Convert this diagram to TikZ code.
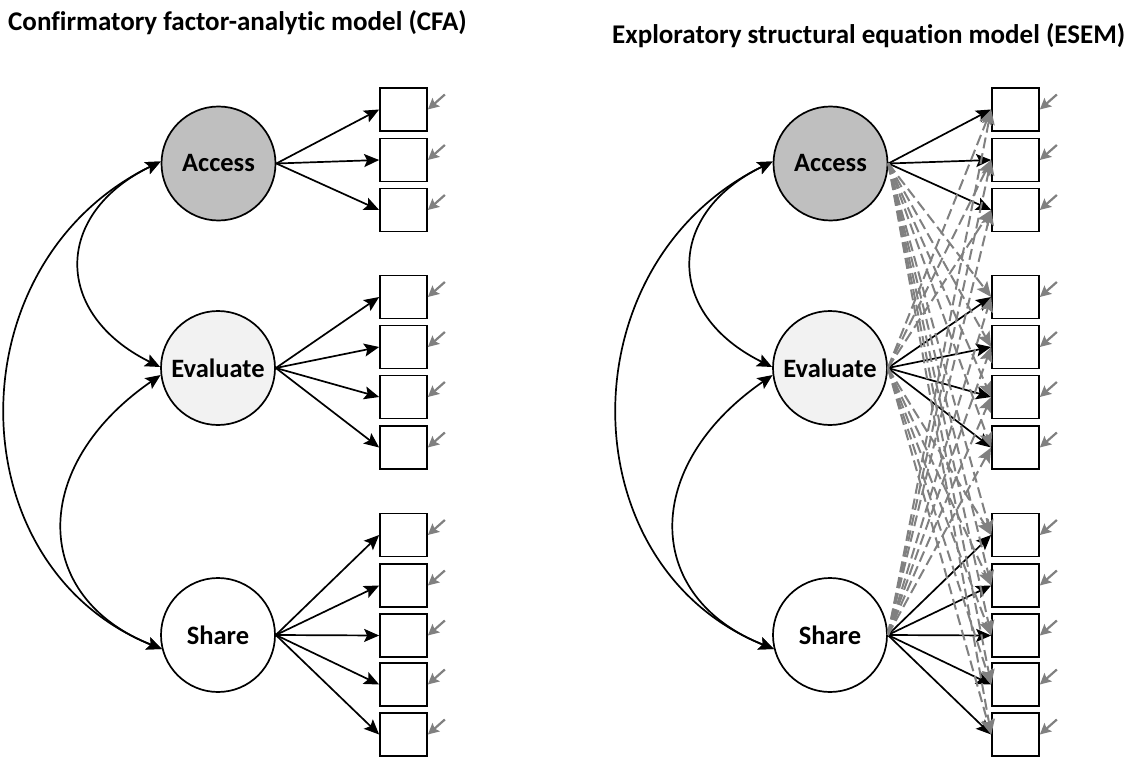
\documentclass[tikz,border=0pt]{standalone}
\usepackage{fontspec}
\setmainfont{Carlito}[Ligatures=NoCommon]
\usetikzlibrary{arrows.meta}
\definecolor{accfill}{RGB}{191,191,191}
\definecolor{evafill}{RGB}{242,242,242}
\definecolor{errgray}{RGB}{128,128,128}
\tikzset{
 factor/.style={circle, draw, line width=1.7pt, minimum size=114pt, inner sep=0pt, font=\fontsize{26.5}{30}\selectfont\bfseries},
 indic/.style={draw, line width=1.7pt, minimum width=47pt, minimum height=43pt, inner sep=0pt},
 load/.style={line width=1.7pt, -{Stealth[length=15pt,width=13pt,inset=3pt]}},
 cov/.style={line width=1.7pt, {Stealth[length=15pt,width=13pt,inset=3pt]}-{Stealth[length=15pt,width=13pt,inset=3pt]}},
 cross/.style={errgray, line width=2pt, dash pattern=on 11pt off 5pt, -{Stealth[length=15pt,width=13pt,inset=3pt]}},
 err/.style={errgray, line width=2.2pt, -{Stealth[length=11pt,width=11pt,inset=2pt]}},
 ttl/.style={font=\fontsize{27}{30}\selectfont\bfseries, anchor=base west, inner sep=0pt},
}
\newcommand\semPanel[2]{%
\begin{scope}[xshift=#2pt]
 \node[factor, fill=accfill] (#1A) at (218.5,163.5) {Access};
 \node[factor, fill=evafill] (#1E) at (218,368) {Evaluate};
 \node[factor, fill=white] (#1S) at (218,635) {Share};
 \foreach \i/\y in {1/109.5,2/160,3/210} \node[indic] (#1a\i) at (403.5,\y) {};
 \foreach \i/\y in {1/297,2/347,3/397,4/447.5} \node[indic] (#1e\i) at (403.5,\y) {};
 \foreach \i/\y in {1/535,2/585.5,3/635.5,4/684.5,5/734.5} \node[indic] (#1s\i) at (403.5,\y) {};
 \foreach \i in {1,2,3} \draw[load] (#1A.east) -- (#1a\i.west);
 \foreach \i in {1,2,3,4} \draw[load] (#1E.east) -- (#1e\i.west);
 \foreach \i in {1,2,3,4,5} \draw[load] (#1S.east) -- (#1s\i.west);
 \foreach \b in {a1,a2,a3,e1,e2,e3,e4,s1,s2,s3,s4,s5}
   \draw[err] ([shift={(17pt,15pt)}]#1\b.east) -- (#1\b.east);
 \draw[cov] (#1A.178) .. controls (53,214) and (53,314) .. (#1E.179);
 \draw[cov] (#1A.178) .. controls (-47,263) and (-45,566) .. (#1S.194);
 \draw[cov] (#1E.187) .. controls (29,466) and (31,597) .. (#1S.194);
\end{scope}}
\begin{document}
\begin{tikzpicture}[x=1pt,y=-1pt]
\useasboundingbox (0,0) rectangle (1125,757);
\node[ttl] (t1) at (8,31) {Confirmatory factor-analytic model (CFA)};
\node[ttl] (t2) at (612,44) {Exploratory structural equation model (ESEM)};
\semPanel{c}{0}
\semPanel{m}{612}
\foreach \b in {e1,e2,e3,e4,s1,s2,s3,s4,s5} \draw[cross] (mA.east) -- (m\b.west);
\foreach \b in {a1,a2,a3,s1,s2,s3,s4,s5} \draw[cross] (mE.east) -- (m\b.west);
\foreach \b in {a1,a2,a3,e1,e2,e3,e4} \draw[cross] (mS.east) -- (m\b.west);
\end{tikzpicture}
\end{document}
